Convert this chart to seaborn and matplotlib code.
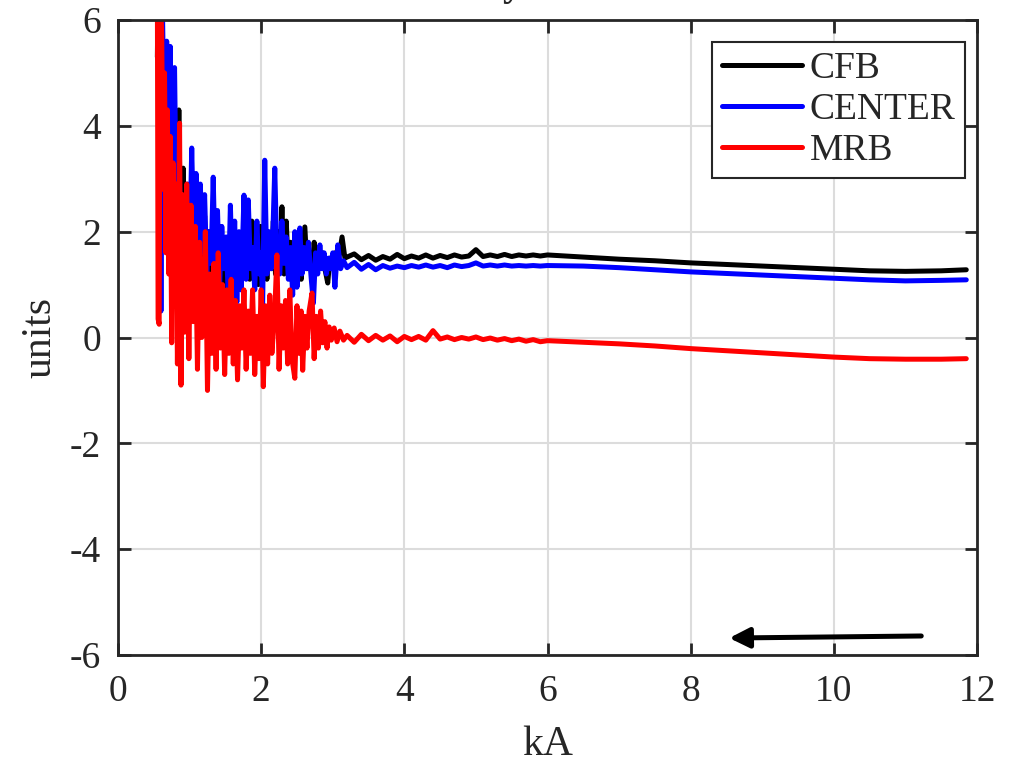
import pandas as pd
import seaborn as sns
import matplotlib
matplotlib.use("Agg")
import matplotlib.pyplot as plt

# values (kA, units)
cfb_x = [0.55, 0.56, 0.60, 0.63, 0.66, 0.69, 0.72, 0.75, 0.78, 0.82, 0.85, 0.88, 0.91, 0.94, 0.97,
         1.00, 1.03, 1.06, 1.09, 1.12, 1.15, 1.18, 1.21, 1.24, 1.27, 1.30, 1.33, 1.36, 1.39, 1.42,
         1.45, 1.48, 1.51, 1.54, 1.57, 1.60, 1.63, 1.66, 1.69, 1.72, 1.75, 1.78, 1.81, 1.84, 1.87,
         1.90, 1.93, 1.96, 1.99, 2.02, 2.05, 2.08, 2.11, 2.14, 2.17, 2.20, 2.23, 2.26, 2.29, 2.32,
         2.35, 2.38, 2.41, 2.44, 2.47, 2.50, 2.53, 2.56, 2.61, 2.64, 2.68, 2.71, 2.74, 2.77, 2.80,
         2.83, 2.86, 2.89, 2.93, 2.96, 2.99, 3.03, 3.08, 3.13, 3.17,
         3.2, 3.3, 3.4, 3.5, 3.6, 3.7, 3.8, 3.9, 4.0, 4.1, 4.2, 4.3, 4.4, 4.5, 4.6, 4.7, 4.8, 4.9,
         5.0, 5.1, 5.2, 5.3, 5.4, 5.5, 5.6, 5.7, 5.8, 5.9, 6.0,
         6.25, 6.5, 7.0, 7.5, 8.0, 8.5, 9.0, 9.5, 10.0, 10.5, 11.0, 11.5, 11.85]
cfb_y = [5.3, 6.5, 6.2, 2.5, 4.8, 2.0, 4.0, 2.2, 3.8, 1.6, 4.3, 1.2, 3.2, 1.4, 2.6,
         1.0, 2.8, 1.3, 2.5, 0.9, 2.2, 1.2, 2.3, 0.9, 2.0, 1.1, 2.1, 0.8, 1.9, 1.0,
         1.7, 0.8, 1.8, 1.1, 1.9, 0.84, 2.0, 1.2, 1.8, 1.0, 2.0, 1.2, 1.9, 1.1, 2.2,
         1.2, 1.8, 1.0, 2.1, 1.2, 2.0, 1.1, 1.9, 1.3, 2.2, 1.2, 2.0, 1.3, 2.47, 1.2,
         2.2, 1.3, 1.8, 1.5, 1.7, 1.2, 1.6, 1.1, 2.09, 1.3, 1.6, 1.2, 1.8, 1.3, 1.7,
         1.4, 1.6, 1.3, 1.03, 1.5, 1.4, 1.6, 1.45, 1.9, 1.5,
         1.52, 1.58, 1.47, 1.55, 1.46, 1.53, 1.48, 1.57, 1.49, 1.54, 1.50, 1.56, 1.50, 1.55,
         1.51, 1.56, 1.52, 1.54, 1.66, 1.53, 1.56, 1.53, 1.57, 1.53, 1.56, 1.54, 1.56, 1.54, 1.56,
         1.54, 1.52, 1.48, 1.45, 1.41, 1.38, 1.35, 1.32, 1.29, 1.26, 1.25, 1.26, 1.28]

center_x = [0.58, 0.60, 0.62, 0.65, 0.68, 0.71, 0.73, 0.76, 0.79, 0.82, 0.85, 0.88, 0.91, 0.94,
            0.97, 1.00, 1.03, 1.06, 1.09, 1.12, 1.15, 1.18, 1.21, 1.24, 1.27, 1.30, 1.33, 1.36,
            1.39, 1.42, 1.45, 1.48, 1.51, 1.54, 1.57, 1.60, 1.63, 1.66, 1.69, 1.72, 1.76, 1.79,
            1.82, 1.85, 1.88, 1.91, 1.94, 1.97, 2.00, 2.02, 2.05, 2.08, 2.11, 2.14, 2.16, 2.19,
            2.22, 2.26, 2.29, 2.32, 2.35, 2.38, 2.41, 2.44, 2.47, 2.50, 2.52, 2.54, 2.57, 2.60,
            2.63, 2.66, 2.70, 2.73, 2.76, 2.79, 2.82, 2.85, 2.88, 2.91, 2.94, 2.97, 3.00, 3.03,
            3.07, 3.11, 3.15,
            3.2, 3.3, 3.4, 3.5, 3.6, 3.7, 3.8, 3.9, 4.0, 4.1, 4.2, 4.3, 4.4, 4.5, 4.6, 4.7, 4.8,
            4.9, 5.0, 5.1, 5.2, 5.3, 5.4, 5.5, 5.6, 5.7, 5.8, 5.9, 6.0,
            6.5, 7.0, 7.5, 8.0, 8.5, 9.0, 9.5, 10.0, 10.5, 11.0, 11.5, 11.85]
center_y = [6.5, 0.5, 6.3, 3.5, 5.6, 3.0, 5.5, 2.5, 5.1, 1.8, 3.3, 2.0, 2.6, 1.3,
            2.9, 1.5, 3.58, 1.7, 3.1, 1.4, 2.9, 1.6, 2.7, 1.2, 2.0, 1.4, 3.03, 1.2,
            2.4, 1.0, 2.1, 1.3, 1.9, 0.8, 2.5, 1.0, 2.2, 0.67, 2.0, 0.9, 2.69, 1.1,
            2.6, 1.3, 1.7, 0.9, 2.2, 1.2, 1.6, 0.58, 3.35, 1.2, 2.0, 1.3, 1.8, 3.2,
            1.5, 1.2, 2.2, 1.4, 1.9, 1.1, 1.7, 0.8, 2.0, 0.95, 1.3, 2.07, 1.2, 1.7,
            1.3, 1.8, 1.1, 0.65, 1.6, 1.2, 1.75, 1.3, 1.6, 1.2, 1.5, 1.3, 1.6, 0.95,
            1.75, 1.3, 1.45,
            1.32, 1.42, 1.29, 1.38, 1.28, 1.36, 1.31, 1.35, 1.32, 1.36, 1.33, 1.37, 1.33, 1.36,
            1.32, 1.37, 1.34, 1.36, 1.41, 1.35, 1.37, 1.35, 1.37, 1.35, 1.36, 1.35, 1.36, 1.35, 1.36,
            1.35, 1.32, 1.28, 1.24, 1.21, 1.18, 1.15, 1.12, 1.09, 1.07, 1.08, 1.09]

mrb_x = [0.55, 0.56, 0.575, 0.59, 0.61, 0.63, 0.65, 0.67, 0.69, 0.71, 0.73, 0.75, 0.77, 0.79,
         0.81, 0.83, 0.86, 0.88, 0.90, 0.93, 0.96, 0.99, 1.02, 1.05, 1.08, 1.11, 1.14, 1.17,
         1.20, 1.22, 1.25, 1.28, 1.31, 1.34, 1.37, 1.40, 1.43, 1.46, 1.49, 1.52, 1.55, 1.58,
         1.61, 1.64, 1.67, 1.70, 1.73, 1.76, 1.79, 1.82, 1.85, 1.88, 1.91, 1.94, 1.97, 2.00,
         2.03, 2.06, 2.09, 2.12, 2.15, 2.19, 2.22, 2.25, 2.28, 2.31, 2.34, 2.37, 2.40, 2.43,
         2.47, 2.50, 2.53, 2.56, 2.58, 2.61, 2.64, 2.67, 2.71, 2.74, 2.77, 2.80, 2.83, 2.86,
         2.89, 2.92, 2.95, 2.98, 3.02, 3.06, 3.10, 3.15,
         3.2, 3.3, 3.4, 3.5, 3.6, 3.7, 3.8, 3.9, 4.0, 4.1, 4.2, 4.3, 4.4, 4.5, 4.6, 4.7, 4.8,
         4.9, 5.0, 5.1, 5.2, 5.3, 5.4, 5.5, 5.6, 5.7, 5.8, 5.9, 6.0,
         6.5, 7.0, 7.5, 8.0, 8.5, 9.0, 9.5, 10.0, 10.5, 11.0, 11.5, 11.85]
mrb_y = [6.5, 0.35, 0.25, 6.4, 5.8, 2.8, 5.0, 1.6, 4.3, 1.2, 3.8, -0.1, 3.3, 0.6,
         2.9, -0.5, 4.05, -0.9, 2.7, 0.1, 2.9, -0.4, 2.5, 0.3, 2.1, -0.6, 1.8, 0.0,
         0.2, 2.0, -1.0, 1.2, -0.3, 1.4, -0.6, 1.6, -0.2, 1.0, -0.7, 0.9, -0.3, 1.1,
         -0.5, 0.7, -0.8, 0.6, -0.2, 0.9, -0.6, 0.5, -0.3, 0.9, -0.7, 0.4, -0.4, 0.9,
         -0.93, 0.6, -0.5, 0.8, -0.3, 0.5, 1.56, -0.6, 0.6, -0.2, 0.7, -0.5, 0.9, -0.4,
         -0.77, 0.6, -0.3, 0.5, -0.62, 0.4, -0.2, 0.5, 0.84, -0.4, 0.4, -0.2, 0.5, -0.1,
         0.3, -0.2, 0.2, -0.05, 0.18, -0.08, 0.12, -0.05,
         0.04, -0.09, 0.06, -0.06, 0.04, -0.05, 0.03, -0.08, 0.02, -0.04, 0.02, -0.05, 0.13,
         -0.03, 0.01, -0.04, 0.0, -0.03, 0.01, -0.04, -0.01, -0.05, -0.02, -0.06, -0.03, -0.07,
         -0.04, -0.08, -0.06,
         -0.09, -0.12, -0.16, -0.21, -0.25, -0.29, -0.33, -0.37, -0.40, -0.41, -0.41, -0.40]

x_ticks = [0, 2, 4, 6, 8, 10, 12]
y_ticks = [-6, -4, -2, 0, 2, 4, 6]

df = pd.concat([
    pd.DataFrame({"kA": cfb_x, "units": cfb_y, "series": "CFB"}),
    pd.DataFrame({"kA": center_x, "units": center_y, "series": "CENTER"}),
    pd.DataFrame({"kA": mrb_x, "units": mrb_y, "series": "MRB"}),
], ignore_index=True)

sns.set_style("ticks")
plt.rcParams["font.family"] = ["Liberation Serif", "DejaVu Serif"]
plt.rcParams["axes.unicode_minus"] = False

fig = plt.figure(figsize=(10.29, 7.71), dpi=100)
ax = fig.add_axes([118 / 1029, 116 / 771, 859 / 1029, 635 / 771])

sns.lineplot(data=df, x="kA", y="units", hue="series",
             palette={"CFB": "black", "CENTER": "blue", "MRB": "red"},
             estimator=None, sort=False, linewidth=3.6, ax=ax)

ax.set_xlim(0, 12)
ax.set_ylim(-6, 6)
ax.set_xticks(x_ticks)
ax.set_yticks(y_ticks)
ax.grid(True, color="#dcdcdc", linewidth=1.5)
ax.set_axisbelow(True)
for s in ax.spines.values():
    s.set_linewidth(2)
    s.set_color("#262626")
ax.tick_params(direction="in", top=True, right=True, length=9, width=2,
               color="#262626", labelsize=27, labelcolor="#262626")
ax.tick_params(axis="x", pad=14)
ax.tick_params(axis="y", pad=12)
ax.set_xlabel("kA", fontsize=30, color="#262626", labelpad=12)
ax.set_ylabel("units", fontsize=30, color="#262626", labelpad=8)

leg = ax.legend(loc="upper right", bbox_to_anchor=(965 / 1029, 1 - 42 / 771),
                bbox_transform=fig.transFigure, borderaxespad=0, fontsize=27,
                handlelength=2.15, handletextpad=0.2, labelspacing=0.18,
                borderpad=0.25, fancybox=False, framealpha=1)
leg.get_frame().set_edgecolor("#262626")
leg.get_frame().set_linewidth(1.5)
for line in leg.get_lines():
    line.set_linewidth(3.6)

ax.annotate("", xy=(8.5, -5.68), xytext=(11.26, -5.64),
            arrowprops=dict(arrowstyle="-|>", lw=3.6, color="black", mutation_scale=30))

# title cut off at the top edge, only the bottom of it shows
fig.text(512 / 1029, 1 + 5 / 771, "y", fontsize=28, fontweight="bold",
         ha="center", va="baseline")

fig.savefig("out.png", dpi=100)
